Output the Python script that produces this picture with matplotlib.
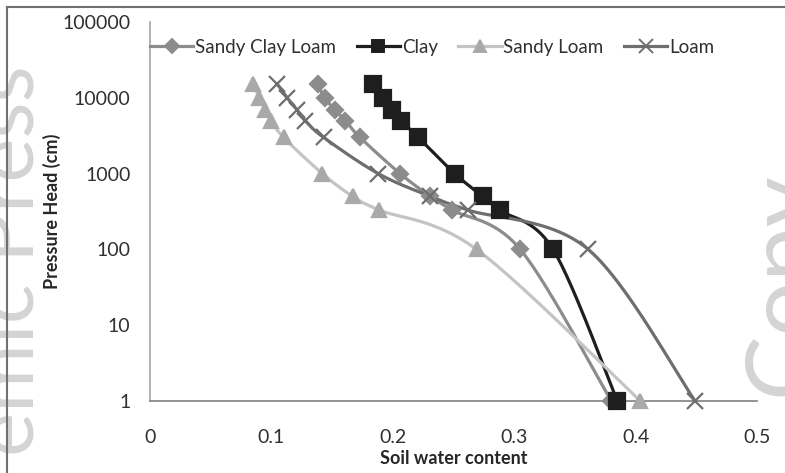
import matplotlib
matplotlib.use("Agg")
import matplotlib.pyplot as plt
import numpy as np
from matplotlib.ticker import FixedLocator, FuncFormatter
from matplotlib.lines import Line2D

plt.rcParams['font.family'] = ['Lato', 'DejaVu Sans']

# pressure head (cm) and soil water content per soil type
heads = [15000, 10000, 7000, 5000, 3000, 1000, 500, 330, 100, 1]
sandy_clay_loam = [0.138, 0.144, 0.152, 0.161, 0.173, 0.206, 0.231, 0.249, 0.305, 0.380]
clay = [0.184, 0.192, 0.199, 0.207, 0.221, 0.251, 0.274, 0.288, 0.332, 0.385]
sandy_loam = [0.085, 0.090, 0.095, 0.100, 0.110, 0.142, 0.167, 0.189, 0.269, 0.404]
loam = [0.105, 0.113, 0.121, 0.128, 0.143, 0.188, 0.231, 0.262, 0.361, 0.449]

x_ticks = [0, 0.1, 0.2, 0.3, 0.4, 0.5]
y_ticks = [1, 10, 100, 1000, 10000, 100000]


def smooth(x, y, n=30):
    # Excel-like smoothed line: Catmull-Rom in screen-ish units (x linear, y log)
    sx, sy = 1214.0, 75.8
    px = np.asarray(x) * sx
    py = np.log10(y) * sy
    P = np.column_stack([px, py])
    P = np.vstack([P[0], P, P[-1]])
    out = []
    t = np.linspace(0, 1, n)[:, None]
    for i in range(1, len(P) - 2):
        p0, p1, p2, p3 = P[i - 1], P[i], P[i + 1], P[i + 2]
        c1 = p1 + (p2 - p0) / 6
        c2 = p2 - (p3 - p1) / 6
        seg = ((1 - t) ** 3) * p1 + 3 * ((1 - t) ** 2) * t * c1 + 3 * (1 - t) * t ** 2 * c2 + t ** 3 * p2
        out.append(seg)
    out = np.vstack(out)
    return out[:, 0] / sx, 10 ** (out[:, 1] / sy)


fig = plt.figure(figsize=(7.85, 4.73), dpi=100)

# faint watermark and frame of the source page
fig.text(-0.035, 0.45, 'emic Press', rotation=90, fontsize=60, color='#d4d4d4',
         ha='left', va='center', zorder=0)
fig.text(0.945, 0.40, 'Copy', rotation=90, fontsize=70, color='#d4d4d4',
         ha='left', va='center', zorder=0)
fig.add_artist(Line2D([7 / 785, 7 / 785], [0, 1 - 7 / 473], color='#707070', lw=1.5))
fig.add_artist(Line2D([7 / 785, 1], [1 - 7 / 473, 1 - 7 / 473], color='#707070', lw=1.5))

ax = fig.add_axes([150 / 785, 1 - 401 / 473, 607 / 785, 379 / 473])
ax.patch.set_alpha(0)

series = [
    ('Sandy Clay Loam', sandy_clay_loam, '#8c8c8c', 'D', 8.5, '#8c8c8c'),
    ('Clay', clay, '#1e1e1e', 's', 11, '#1e1e1e'),
    ('Sandy Loam', sandy_loam, '#c4c4c4', '^', 10, '#a9a9a9'),
    ('Loam', loam, '#6e6e6e', 'x', 12, '#6e6e6e'),
]

handles = []
for name, xs, col, mk, ms, mcol in series:
    sxs, sys_ = smooth(xs, heads)
    ax.plot(sxs, sys_, color=col, lw=2.3, solid_capstyle='round', clip_on=False, zorder=3)
    ax.plot(xs, heads, ls='none', marker=mk, ms=ms, color=mcol, mec=mcol,
            mew=1.6, clip_on=False, zorder=4)
    handles.append(Line2D([], [], color=col, lw=2.3, marker=mk, ms=ms * 0.8,
                          mfc=mcol, mec=mcol, mew=1.4, label=name))

ax.set_yscale('log')
ax.set_xlim(0, 0.5)
ax.set_ylim(1, 100000)
ax.yaxis.set_major_locator(FixedLocator(y_ticks))
ax.yaxis.set_minor_locator(FixedLocator([]))
ax.yaxis.set_major_formatter(FuncFormatter(lambda v, p: '%d' % round(v)))
ax.set_xticks(x_ticks)
ax.set_xticklabels(['0', '0.1', '0.2', '0.3', '0.4', '0.5'])
ax.tick_params(length=0, labelsize=14, colors='#303030')
ax.tick_params(axis='y', pad=14)
ax.tick_params(axis='x', pad=20)

for s in ['top', 'right']:
    ax.spines[s].set_visible(False)
ax.spines['left'].set_color('#a6a6a6')
ax.spines['bottom'].set_color('#7f7f7f')
ax.spines['left'].set_linewidth(1.2)
ax.spines['bottom'].set_linewidth(1.2)

ax.set_xlabel('Soil water content', fontsize=13, fontweight='bold', color='#262626', labelpad=3)
ax.set_ylabel('Pressure Head (cm)', fontsize=13, fontweight='bold', color='#262626', labelpad=1)

leg = ax.legend(handles=handles, loc='upper left', bbox_to_anchor=(-0.012, 0.975), ncol=4,
                frameon=False, fontsize=13.5, handlelength=2.3, handletextpad=0.1,
                columnspacing=1.1, borderaxespad=0)
for t in leg.get_texts():
    t.set_color('#303030')

fig.savefig('out.png', dpi=100)
